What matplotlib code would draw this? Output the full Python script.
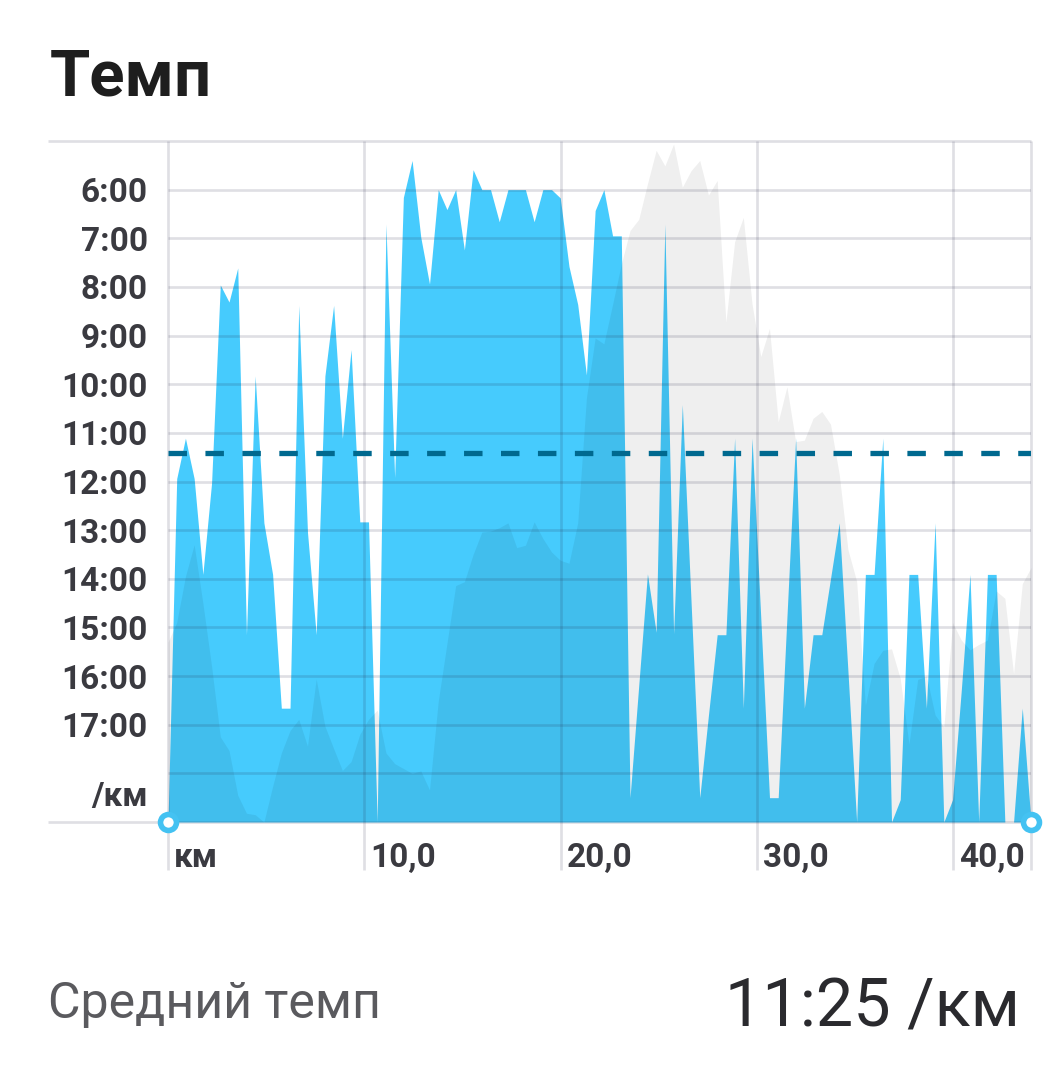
import matplotlib
matplotlib.use("Agg")
import matplotlib.pyplot as plt
import numpy as np

plt.rcParams['font.family'] = ['Roboto', 'DejaVu Sans']

# ---------------- data ----------------
TOTAL_KM = 43.96
# pace of this run (minutes per km), sampled evenly along the distance
pace_min = [
    19.0, 11.94, 11.11, 11.94, 13.91, 12.03, 7.96, 8.31, 7.61, 15.15,
    9.83, 12.85, 13.91, 16.66, 16.66, 8.38, 13.04, 15.15, 9.83, 8.38,
    11.11, 9.29, 12.83, 12.83, 19.0, 6.71, 11.92, 6.16, 5.40, 6.98,
    7.94, 6.0, 6.41, 6.0, 7.24, 5.59, 6.0, 6.0, 6.66, 6.0,
    6.0, 6.0, 6.66, 6.0, 6.0, 6.17, 7.58, 8.36, 9.81, 6.43,
    6.0, 6.95, 6.95, 18.5, 16.2, 13.9, 15.1, 6.71, 15.13, 10.42,
    14.46, 18.5, 16.8, 15.15, 15.15, 11.11, 16.66, 11.11, 14.8, 18.5,
    18.5, 14.8, 11.11, 16.66, 15.15, 15.15, 14.0, 12.85, 15.9, 19.0,
    13.91, 13.91, 11.11, 19.0, 18.54, 13.91, 13.91, 16.66, 12.85, 19.0,
    18.54, 16.3, 13.91, 19.0, 13.91, 13.91, 19.0, 19.0, 16.66, 19.0,
]
# comparison pace (grey overlay)
compare_min = [
    15.3, 14.9, 13.95, 13.3, 14.5, 15.8, 17.25, 17.53, 18.45, 18.82,
    18.85, 19.0, 18.27, 17.58, 17.12, 16.89, 17.44, 16.06, 17.03, 17.49,
    17.94, 17.76, 17.2, 16.89, 16.7, 17.58, 17.8, 17.9, 18.0, 17.95,
    18.34, 16.52, 15.33, 14.14, 14.06, 13.5, 13.04, 13.02, 12.95, 12.85,
    13.36, 13.31, 12.83, 13.17, 13.45, 13.62, 13.68, 12.85, 10.28, 9.05,
    9.17, 8.36, 7.53, 6.84, 6.61, 5.88, 5.19, 5.51, 5.06, 5.95,
    5.61, 5.40, 6.11, 5.81, 8.72, 7.07, 6.57, 8.35, 9.43, 8.85,
    10.77, 10.05, 11.18, 11.15, 10.70, 10.56, 10.82, 11.85, 13.4, 14.05,
    16.6, 15.74, 15.47, 15.44, 16.05, 17.4, 16.07, 16.0, 16.8, 17.05,
    14.9, 15.26, 15.46, 15.35, 15.26, 14.25, 14.4, 15.95, 14.1, 13.77,
]
avg_pace_min = 11 + 25 / 60.0

y_ticks = [6, 7, 8, 9, 10, 11, 12, 13, 14, 15, 16, 17]
y_labels = ["6:00", "7:00", "8:00", "9:00", "10:00", "11:00", "12:00",
            "13:00", "14:00", "15:00", "16:00", "17:00"]
x_ticks = [0, 10, 20, 30, 40]
x_labels = ["км", "10,0", "20,0", "30,0", "40,0"]

title = "Темп"
avg_label = "Средний темп"
avg_value = "11:25 /км"
unit_label = "/км"

# ---------------- layout ----------------
W, H = 1052, 1088
L, R, T, B = 168, 1031, 141, 822
YMIN, YMAX = 5, 19

fig = plt.figure(figsize=(W / 100, H / 100), dpi=100)
fig.patch.set_facecolor("white")
ax = fig.add_axes([L / W, 1 - B / H, (R - L) / W, (B - T) / H])
ax.set_xlim(0, TOTAL_KM)
ax.set_ylim(YMAX, YMIN)
ax.axis("off")

def px2x(px):
    return (px - L) * TOTAL_KM / (R - L)

def px2y(py):
    return YMIN + (py - T) * (YMAX - YMIN) / (B - T)

dy_px = (YMAX - YMIN) / (B - T)

dist = np.linspace(0, TOTAL_KM, len(pace_min))
pace = np.array(pace_min)
comp = np.array(compare_min)

BLUE = "#46CBFD"
ax.fill_between(dist, pace, YMAX, color=BLUE, lw=0, zorder=1)
ax.fill_between(dist, comp, YMAX, color="black", alpha=0.064, lw=0, zorder=2)

GRID = dict(color=(0.12, 0.12, 0.25), alpha=0.14, lw=1.9, solid_capstyle="butt", zorder=3)
# horizontal grid
for v in range(6, 19):
    ax.plot([0, TOTAL_KM], [v, v], **GRID)
# top / bottom frame lines extended to the left
ax.plot([px2x(48), TOTAL_KM], [YMIN, YMIN], clip_on=False, **GRID)
ax.plot([px2x(48), TOTAL_KM], [YMAX, YMAX], clip_on=False, **GRID)
# vertical grid lines, reaching below the axis
for xv in x_ticks + [TOTAL_KM]:
    ax.plot([xv, xv], [YMIN, px2y(870)], clip_on=False, **GRID)

# average pace dashed line
ax.plot([0, TOTAL_KM], [avg_pace_min, avg_pace_min], color="#00698F",
        lw=3.8, ls=(0, (3.5, 3.5)), dash_capstyle="butt", zorder=4)

# end markers
ax.plot([dist[0], dist[-1]], [YMAX, YMAX], ls="none", marker="o", ms=11.5,
        mfc="white", mec="#44C2F2", mew=4.0, clip_on=False, zorder=6)

TXT = "#3A3A40"
for v, lab in zip(y_ticks, y_labels):
    ax.text(px2x(148), v + 12.5 * dy_px, lab, ha="right", va="baseline",
            fontsize=24, fontweight="bold", color=TXT, clip_on=False)
ax.text(px2x(148), px2y(806), unit_label, ha="right", va="baseline",
        fontsize=24, fontweight="bold", color=TXT, clip_on=False)

for xv, lab in zip(x_ticks, x_labels):
    ax.text(xv + px2x(174) - px2x(168), px2y(867), lab, ha="left", va="baseline",
            fontsize=24, fontweight="bold", color=TXT, clip_on=False)

fig.text(50 / W, 1 - 95 / H, title, ha="left", va="baseline",
         fontsize=47, fontweight="bold", color="#1E1E1E")
fig.text(48 / W, 1 - 1018 / H, avg_label, ha="left", va="baseline",
         fontsize=36, color="#5A5A5E")
fig.text(1020 / W, 1 - 1027 / H, avg_value, ha="right", va="baseline",
         fontsize=48, color="#2A2A2E")

fig.savefig("out.png", dpi=100, facecolor="white")
